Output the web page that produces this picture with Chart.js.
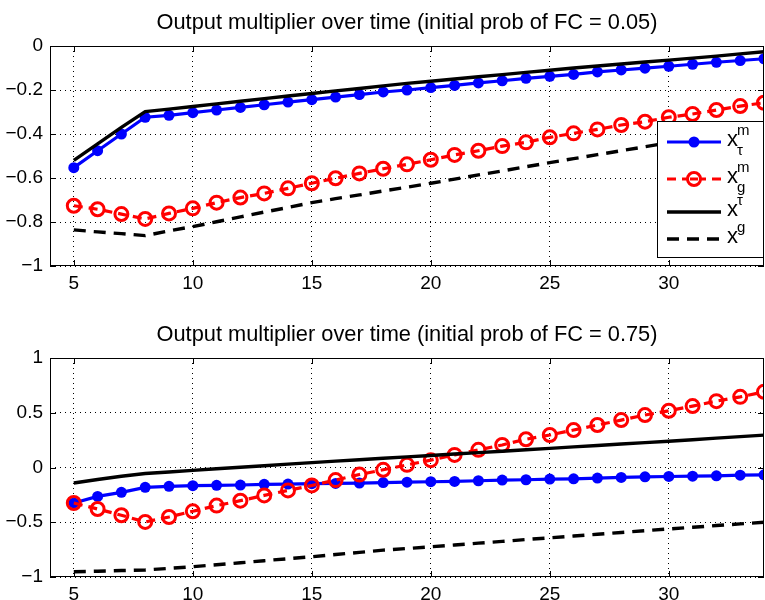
<!DOCTYPE html>
<html lang="en">
<head>
<meta charset="UTF-8">
<title>Output multiplier over time</title>
<script src="https://cdn.jsdelivr.net/npm/chart.js@4"></script>
<style>
  body { margin: 0; background: #fff; }
  canvas { position: absolute; left: 0; }
  #topChart { top: 0; }
  #bottomChart { top: 300px; }
</style>
</head>
<body>
<canvas id="topChart" width="765" height="300"></canvas>
<canvas id="bottomChart" width="765" height="300"></canvas>
<script>
// periods on the x axis
const periods = [5,6,7,8,9,10,11,12,13,14,15,16,17,18,19,20,21,22,23,24,25,26,27,28,29,30,31,32,33,34];
const xTicks = [5, 10, 15, 20, 25, 30];
const topYTicks = [-1, -0.8, -0.6, -0.4, -0.2, 0];
const bottomYTicks = [-1, -0.5, 0, 0.5, 1];

// initial prob of FC = 0.05
const taxMultTop = [-0.553,-0.476,-0.400,-0.324,-0.315,-0.303,-0.291,-0.279,-0.267,-0.255,-0.244,-0.232,-0.221,-0.209,-0.200,-0.189,-0.179,-0.168,-0.158,-0.147,-0.138,-0.129,-0.118,-0.109,-0.101,-0.092,-0.083,-0.074,-0.066,-0.058];
const govMultTop = [-0.726,-0.742,-0.764,-0.786,-0.761,-0.738,-0.712,-0.689,-0.670,-0.647,-0.624,-0.601,-0.579,-0.558,-0.538,-0.517,-0.495,-0.476,-0.455,-0.438,-0.415,-0.397,-0.379,-0.359,-0.344,-0.324,-0.309,-0.291,-0.273,-0.258];
const taxTop = [-0.520,-0.445,-0.370,-0.298,-0.287,-0.275,-0.263,-0.251,-0.239,-0.227,-0.216,-0.204,-0.193,-0.181,-0.170,-0.160,-0.150,-0.140,-0.130,-0.120,-0.110,-0.100,-0.091,-0.082,-0.073,-0.064,-0.055,-0.046,-0.036,-0.026];
const govTop = [-0.836,-0.845,-0.853,-0.862,-0.840,-0.821,-0.799,-0.777,-0.755,-0.734,-0.712,-0.694,-0.677,-0.659,-0.642,-0.624,-0.605,-0.586,-0.568,-0.549,-0.530,-0.512,-0.494,-0.476,-0.458,-0.440,-0.422,-0.404,-0.386,-0.368];

// initial prob of FC = 0.75
const taxMultBottom = [-0.324,-0.264,-0.227,-0.181,-0.172,-0.166,-0.163,-0.160,-0.154,-0.151,-0.148,-0.145,-0.142,-0.138,-0.134,-0.130,-0.127,-0.121,-0.115,-0.112,-0.106,-0.103,-0.097,-0.091,-0.085,-0.082,-0.079,-0.076,-0.070,-0.067];
const govMultBottom = [-0.324,-0.379,-0.436,-0.497,-0.452,-0.400,-0.348,-0.303,-0.255,-0.209,-0.164,-0.115,-0.064,-0.021,0.024,0.067,0.115,0.161,0.206,0.258,0.297,0.342,0.388,0.433,0.479,0.518,0.561,0.606,0.645,0.691];
const taxBottom = [-0.142,-0.110,-0.080,-0.055,-0.041,-0.026,-0.012,0.002,0.016,0.031,0.045,0.058,0.071,0.084,0.097,0.110,0.123,0.136,0.149,0.162,0.175,0.188,0.201,0.214,0.227,0.240,0.254,0.268,0.282,0.296];
const govBottom = [-0.952,-0.947,-0.941,-0.936,-0.921,-0.906,-0.888,-0.870,-0.851,-0.833,-0.815,-0.795,-0.775,-0.755,-0.740,-0.724,-0.708,-0.691,-0.675,-0.658,-0.642,-0.626,-0.610,-0.593,-0.577,-0.561,-0.546,-0.530,-0.515,-0.500];

// legend text: base, superscript, subscript
const legendBase = ['x', 'x', 'x', 'x'];
const legendSup = ['m', 'm', '\u03C4', 'g'];
const legendSub = ['\u03C4', 'g', '', ''];

const FONT = '"Liberation Sans", Arial, Helvetica, sans-serif';

function pts(vals) {
    return periods.map((p, i) => ({ x: p, y: vals[i] }));
}

function makeDatasets(tm, gm, t, g) {
    return [
        { data: pts(tm), borderColor: '#0000ff', backgroundColor: '#0000ff', borderWidth: 3.2,
          pointRadius: 5.5, pointBorderWidth: 0, pointBackgroundColor: '#0000ff', order: 4 },
        { data: pts(gm), borderColor: '#ff0000', borderWidth: 3.2, borderDash: [9, 6],
          pointRadius: 6.5, pointBorderWidth: 3, pointBorderColor: '#ff0000',
          pointBackgroundColor: 'rgba(0,0,0,0)', order: 3 },
        { data: pts(t), borderColor: '#000', borderWidth: 3.4, pointRadius: 0, order: 2 },
        { data: pts(g), borderColor: '#000', borderWidth: 3.4, borderDash: [12, 8], pointRadius: 0, order: 1 }
    ];
}

// title, box and inward tick marks like the original figure
const framePlugin = {
    id: 'frame',
    afterDraw(chart, args, opts) {
        const ctx = chart.ctx, a = chart.chartArea;
        ctx.save();
        ctx.fillStyle = '#000';
        ctx.font = '21.8px ' + FONT;
        ctx.textAlign = 'center';
        ctx.textBaseline = 'alphabetic';
        ctx.fillText(opts.title, (a.left + a.right) / 2, a.top - 17);

        ctx.strokeStyle = '#000';
        ctx.lineWidth = 1;
        ctx.setLineDash([]);
        ctx.strokeRect(a.left + 0.5, a.top + 0.5, a.right - a.left - 1, a.bottom - a.top - 1);
        ctx.beginPath();
        const ys = chart.scales.y, xs = chart.scales.x;
        ys.ticks.forEach(t => {
            const p = Math.round(ys.getPixelForValue(t.value)) + 0.5;
            ctx.moveTo(a.left, p); ctx.lineTo(a.left + 6, p);
            ctx.moveTo(a.right - 6, p); ctx.lineTo(a.right, p);
        });
        xs.ticks.forEach(t => {
            const p = Math.round(xs.getPixelForValue(t.value)) + 0.5;
            ctx.moveTo(p, a.top); ctx.lineTo(p, a.top + 6);
            ctx.moveTo(p, a.bottom - 6); ctx.lineTo(p, a.bottom);
        });
        ctx.stroke();

        if (opts.legend) drawLegend(chart);
        ctx.restore();
    }
};

function drawLegend(chart) {
    const ctx = chart.ctx, a = chart.chartArea;
    const left = a.right - 107, top = a.top + 75, w = 106, h = 136;
    ctx.fillStyle = '#fff';
    ctx.fillRect(left, top, w, h);
    ctx.strokeStyle = '#000';
    ctx.lineWidth = 1;
    ctx.strokeRect(left + 0.5, top + 0.5, w, h);
    const rows = [21, 58, 91, 118];
    chart.data.datasets.forEach((ds, i) => {
        const y = top + rows[i];
        ctx.save();
        ctx.strokeStyle = ds.borderColor;
        ctx.lineWidth = ds.borderWidth;
        ctx.setLineDash(ds.borderDash || []);
        ctx.beginPath();
        ctx.moveTo(left + 10, y);
        ctx.lineTo(left + 64, y);
        ctx.stroke();
        ctx.setLineDash([]);
        if (ds.pointRadius > 0) {
            ctx.beginPath();
            ctx.arc(left + 37, y, ds.pointRadius, 0, Math.PI * 2);
            if (ds.pointBorderWidth > 0) {
                ctx.fillStyle = '#fff';
                ctx.fill();
                ctx.lineWidth = ds.pointBorderWidth;
                ctx.strokeStyle = ds.pointBorderColor;
                ctx.stroke();
                ctx.beginPath();
                ctx.lineWidth = 3;
                ctx.moveTo(left + 33, y); ctx.lineTo(left + 41, y);
                ctx.stroke();
            } else {
                ctx.fillStyle = ds.pointBackgroundColor;
                ctx.fill();
            }
        }
        ctx.fillStyle = '#000';
        ctx.textAlign = 'left';
        ctx.textBaseline = 'alphabetic';
        ctx.font = '22px ' + FONT;
        ctx.fillText(legendBase[i], left + 70, y + 4);
        ctx.font = '15px ' + FONT;
        ctx.fillText(legendSup[i], left + 80, y - 7);
        if (legendSub[i]) ctx.fillText(legendSub[i], left + 80, y + 13);
        ctx.restore();
    });
}

function makeChart(id, datasets, yMin, yMax, yTicks, title, legend, padTop, xHeight) {
    return new Chart(document.getElementById(id), {
        type: 'line',
        data: { datasets: datasets },
        options: {
            responsive: false,
            animation: false,
            layout: { autoPadding: false, padding: { top: padTop, right: 1, left: 0, bottom: 0 } },
            plugins: {
                legend: { display: false },
                tooltip: { enabled: false },
                frame: { title: title, legend: legend }
            },
            scales: {
                x: {
                    type: 'linear', min: 4, max: 34,
                    afterBuildTicks: s => { s.ticks = xTicks.map(v => ({ value: v })); },
                    afterFit: s => { s.height = xHeight; },
                    grid: { color: '#000', lineWidth: 1, drawTicks: false },
                    border: { display: false, dash: [1, 4] },
                    ticks: { color: '#000', padding: 6, maxRotation: 0, font: { family: FONT, size: 19 } }
                },
                y: {
                    min: yMin, max: yMax,
                    afterBuildTicks: s => { s.ticks = yTicks.map(v => ({ value: v })); },
                    afterFit: s => { s.width = 50; },
                    grid: { color: '#000', lineWidth: 1, drawTicks: false },
                    border: { display: false, dash: [1, 4] },
                    ticks: {
                        color: '#000', padding: 7, font: { family: FONT, size: 19 },
                        callback: v => String(v).replace('-', '\u2212')
                    }
                }
            }
        },
        plugins: [framePlugin]
    });
}

makeChart('topChart', makeDatasets(taxMultTop, govMultTop, taxTop, govTop), -1, 0, topYTicks,
    'Output multiplier over time (initial prob of FC = 0.05)', true, 46, 34);
makeChart('bottomChart', makeDatasets(taxMultBottom, govMultBottom, taxBottom, govBottom), -1, 1, bottomYTicks,
    'Output multiplier over time (initial prob of FC = 0.75)', false, 58, 23);
</script>
</body>
</html>
